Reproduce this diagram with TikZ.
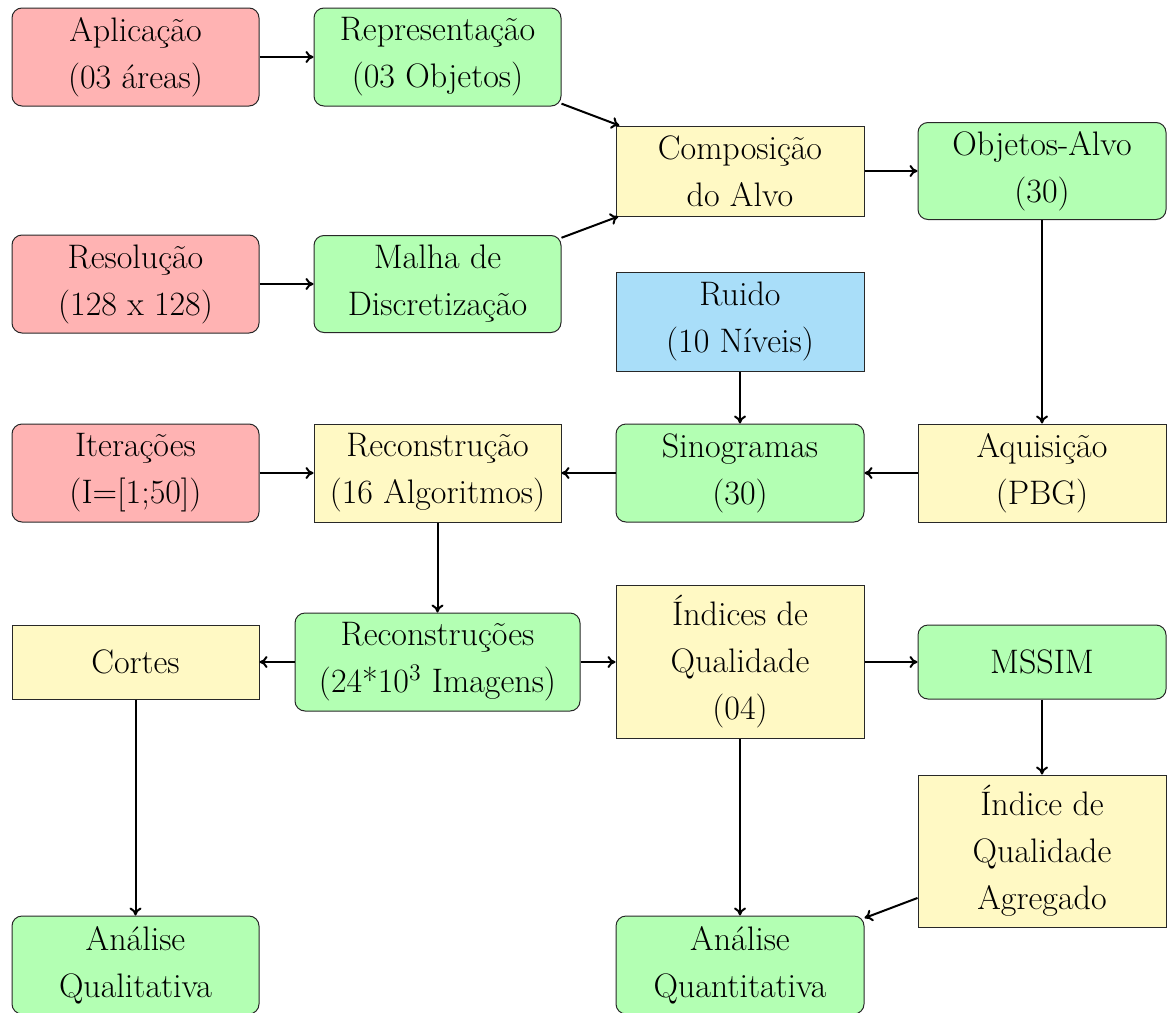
\documentclass[tikz,border=0pt]{standalone}
\usetikzlibrary{arrows.meta}
\definecolor{cred}{RGB}{255,179,179}
\definecolor{cgreen}{RGB}{179,255,179}
\definecolor{cyel}{RGB}{255,249,196}
\definecolor{cblue}{RGB}{169,222,249}
\definecolor{cborder}{RGB}{40,40,40}
\begin{document}
\begin{tikzpicture}[x=0.5pt,y=-0.5pt,
  base/.style={draw=cborder,line width=0.5pt,inner sep=0pt,align=center,
    font=\fontsize{17}{23.5}\selectfont,minimum width=123.5pt,minimum height=49pt},
  rbox/.style={base,rounded corners=5pt},
  redbox/.style={rbox,fill=cred},
  greenbox/.style={rbox,fill=cgreen},
  yelbox/.style={base,fill=cyel},
  bluebox/.style={base,fill=cblue},
  arr/.style={-{To[length=4pt,width=6pt]},line width=1pt,black}]
\useasboundingbox (0,0) rectangle (1167,1012);
\node[redbox] (apl) at (135.5,57) {Aplicação\\(03 áreas)};
\node[greenbox] (rep) at (437.5,57) {Representação\\(03 Objetos)};
\node[yelbox,minimum width=124pt,minimum height=45pt] (comp) at (740,171) {Composição\\do Alvo};
\node[greenbox,minimum width=124pt,minimum height=48.5pt] (obj) at (1042,171) {Objetos-Alvo\\(30)};
\node[redbox] (res) at (135.5,284) {Resolução\\(128 x 128)};
\node[greenbox,minimum height=48.5pt] (mal) at (437.5,284) {Malha de\\Discretização};
\node[bluebox,minimum width=124pt,minimum height=49.5pt] (rui) at (740,321.5) {Ruido\\(10 Níveis)};
\node[redbox] (ite) at (135.5,473) {Iterações\\(I=[1;50])};
\node[yelbox] (rec) at (437.5,473) {Reconstrução\\(16 Algoritmos)};
\node[greenbox,minimum width=124pt] (sin) at (740,473) {Sinogramas\\(30)};
\node[yelbox,minimum width=124pt] (aqu) at (1042,473) {Aquisição\\(PBG)};
\node[yelbox,minimum height=37pt] (cor) at (135.5,662) {Cortes};
\node[greenbox,minimum width=142.5pt] (recs) at (437.5,662) {Reconstruções\\(24*10\textsuperscript{3} Imagens)};
\node[yelbox,minimum width=124pt,minimum height=76.5pt] (ind) at (740,662) {Índices de\\Qualidade\\(04)};
\node[greenbox,minimum width=124pt,minimum height=37pt] (mss) at (1042,662) {MSSIM};
\node[yelbox,minimum width=124pt,minimum height=76pt] (agr) at (1042,851) {Índice de\\Qualidade\\Agregado};
\node[greenbox] (aql) at (135.5,965) {Análise\\Qualitativa};
\node[greenbox,minimum width=124pt] (aqt) at (740,965) {Análise\\Quantitativa};
\draw[arr] (apl) -- (rep);
\draw[arr] (rep) -- (comp);
\draw[arr] (res) -- (mal);
\draw[arr] (mal) -- (comp);
\draw[arr] (comp) -- (obj);
\draw[arr] (obj) -- (aqu);
\draw[arr] (rui) -- (sin);
\draw[arr] (aqu) -- (sin);
\draw[arr] (sin) -- (rec);
\draw[arr] (ite) -- (rec);
\draw[arr] (rec) -- (recs);
\draw[arr] (recs) -- (cor);
\draw[arr] (recs) -- (ind);
\draw[arr] (ind) -- (mss);
\draw[arr] (mss) -- (agr);
\draw[arr] (cor) -- (aql);
\draw[arr] (ind) -- (aqt);
\draw[arr] (agr) -- (aqt);
\end{tikzpicture}
\end{document}
